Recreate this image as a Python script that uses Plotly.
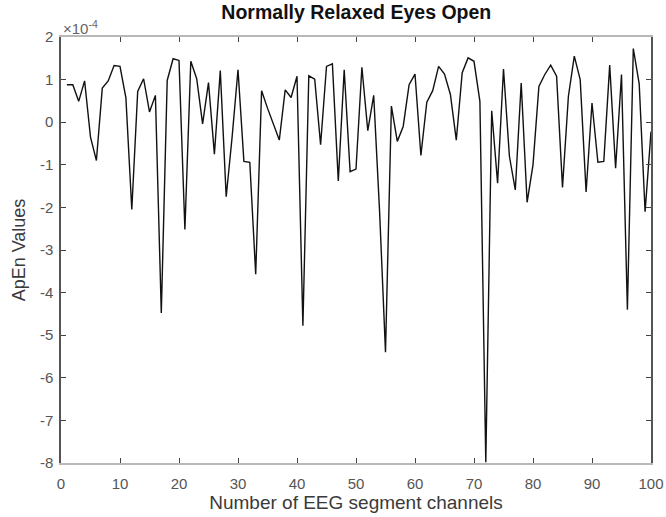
import plotly.graph_objects as go

# ApEn values, in units of 1e-4, for channels 1..100
channels = list(range(1, 101))
apen_e4 = [
    0.88, 0.88, 0.49, 0.97, -0.35, -0.90, 0.80, 0.97, 1.33, 1.31,
    0.57, -2.05, 0.72, 1.02, 0.24, 0.63, -4.48, 0.98, 1.49, 1.45,
    -2.52, 1.43, 1.02, -0.04, 0.93, -0.75, 1.21, -1.75, -0.35, 1.23,
    -0.92, -0.94, -3.57, 0.74, 0.33, -0.04, -0.42, 0.76, 0.58, 1.08,
    -4.78, 1.09, 1.01, -0.53, 1.31, 1.37, -1.38, 1.23, -1.16, -1.10,
    1.29, -0.20, 0.63, -2.10, -5.40, 0.38, -0.45, -0.10, 0.88, 1.13,
    -0.78, 0.47, 0.74, 1.31, 1.13, 0.65, -0.42, 1.16, 1.51, 1.43,
    0.49, -7.98, 0.27, -1.43, 1.25, -0.80, -1.59, 0.92, -1.88, -1.00,
    0.84, 1.12, 1.34, 1.08, -1.53, 0.61, 1.55, 1.00, -1.64, 0.45,
    -0.94, -0.92, 1.34, -1.08, 1.12, -4.40, 1.73, 0.90, -2.10, -0.22,
]
x_ticks = [0, 10, 20, 30, 40, 50, 60, 70, 80, 90, 100]
y_ticks = [-8, -7, -6, -5, -4, -3, -2, -1, 0, 1, 2]
y_tick_labels = ["-8", "-7", "-6", "-5", "-4", "-3", "-2", "-1", "0", "1", "2"]

FONT = "Liberation Sans, Arial, Helvetica, sans-serif"

fig = go.Figure()
fig.add_trace(go.Scatter(
    x=channels, y=apen_e4, mode="lines",
    line=dict(color="#111111", width=1.4),
    showlegend=False,
))

fig.update_layout(
    width=666, height=517,
    margin=dict(l=61, r=15, t=37, b=54),
    paper_bgcolor="white", plot_bgcolor="white",
    font=dict(family=FONT, color="#3a3a3a", size=15),
    title=dict(text="<b>Normally Relaxed Eyes Open</b>", x=0.535, xanchor="center",
               y=0.977, yanchor="middle", font=dict(size=19.5, color="#111111", family=FONT)),
    xaxis=dict(
        range=[0, 100], tickvals=x_ticks, ticks="inside", ticklen=5, tickcolor="#444",
        showline=True, linecolor="#b8b8b8", linewidth=2, mirror="ticks",
        showgrid=False, zeroline=False, automargin=False, ticklabelstandoff=6,
        title=dict(text="Number of EEG segment channels", font=dict(size=19, color="#3a3a3a"), standoff=5),
        tickfont=dict(size=15, color="#555"),
    ),
    yaxis=dict(
        range=[-8, 2], tickvals=y_ticks, ticktext=y_tick_labels, ticks="inside", ticklen=5,
        tickcolor="#444",
        showline=True, linecolor="#555555", linewidth=1.5, mirror="ticks",
        showgrid=False, zeroline=False, automargin=False, ticklabelstandoff=3,
        title=dict(text="ApEn Values", font=dict(size=18, color="#3a3a3a"), standoff=10),
        tickfont=dict(size=15, color="#555"),
    ),
    annotations=[dict(
        text="×10<sup>-4</sup>", xref="paper", yref="paper", x=0.0, y=1.0,
        xanchor="left", yanchor="bottom", showarrow=False,
        font=dict(size=15, color="#666"), yshift=-2,
    )],
)

fig.write_html("out.html")
